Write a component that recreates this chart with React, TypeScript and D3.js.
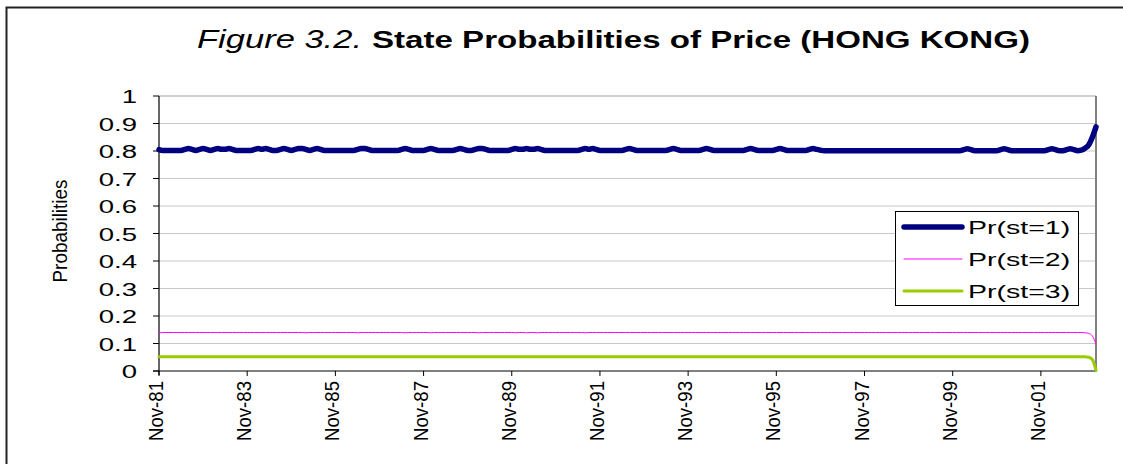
import React from 'react'
import * as d3 from 'd3'

// monthly state probabilities, Nov-81 .. Feb-03
const pr1 = [
  0.805, 0.802, 0.802, 0.802, 0.802, 0.802, 0.802, 0.806, 0.809, 0.806, 0.802, 0.806,
  0.809, 0.806, 0.802, 0.806, 0.809, 0.806, 0.806, 0.809, 0.806, 0.802, 0.802, 0.802,
  0.802, 0.802, 0.806, 0.809, 0.806, 0.809, 0.806, 0.802, 0.802, 0.806, 0.809, 0.806,
  0.802, 0.806, 0.809, 0.809, 0.806, 0.802, 0.806, 0.809, 0.806, 0.802, 0.802, 0.802,
  0.802, 0.802, 0.802, 0.802, 0.802, 0.802, 0.806, 0.809, 0.809, 0.806, 0.802, 0.802,
  0.802, 0.802, 0.802, 0.802, 0.802, 0.802, 0.806, 0.809, 0.806, 0.802, 0.802, 0.802,
  0.802, 0.806, 0.809, 0.806, 0.802, 0.802, 0.802, 0.802, 0.802, 0.806, 0.809, 0.806,
  0.802, 0.802, 0.806, 0.809, 0.809, 0.806, 0.802, 0.802, 0.802, 0.802, 0.802, 0.802,
  0.806, 0.809, 0.806, 0.806, 0.809, 0.806, 0.806, 0.809, 0.806, 0.802, 0.802, 0.802,
  0.802, 0.802, 0.802, 0.802, 0.802, 0.802, 0.802, 0.806, 0.809, 0.806, 0.809, 0.806,
  0.802, 0.802, 0.802, 0.802, 0.802, 0.802, 0.802, 0.806, 0.809, 0.806, 0.802, 0.802,
  0.802, 0.802, 0.802, 0.802, 0.802, 0.802, 0.802, 0.806, 0.809, 0.806, 0.802, 0.802,
  0.802, 0.802, 0.802, 0.802, 0.806, 0.809, 0.806, 0.802, 0.802, 0.802, 0.802, 0.802,
  0.802, 0.802, 0.802, 0.802, 0.806, 0.809, 0.806, 0.802, 0.802, 0.802, 0.802, 0.802,
  0.806, 0.809, 0.806, 0.802, 0.802, 0.802, 0.802, 0.802, 0.802, 0.806, 0.809, 0.806,
  0.803, 0.801, 0.801, 0.801, 0.801, 0.801, 0.801, 0.801, 0.801, 0.801, 0.801, 0.801,
  0.801, 0.801, 0.801, 0.801, 0.801, 0.801, 0.801, 0.801, 0.801, 0.801, 0.801, 0.801,
  0.801, 0.801, 0.801, 0.801, 0.801, 0.801, 0.801, 0.801, 0.801, 0.801, 0.801, 0.801,
  0.801, 0.801, 0.801, 0.805, 0.808, 0.805, 0.801, 0.801, 0.801, 0.801, 0.801, 0.801,
  0.801, 0.805, 0.808, 0.805, 0.801, 0.801, 0.801, 0.801, 0.801, 0.801, 0.801, 0.801,
  0.801, 0.801, 0.805, 0.808, 0.805, 0.801, 0.801, 0.805, 0.808, 0.805, 0.801, 0.803,
  0.81, 0.822, 0.85, 0.888
]

const pr2 = [
  0.138, 0.14, 0.14, 0.14, 0.14, 0.14, 0.14, 0.14, 0.14, 0.14, 0.14, 0.14,
  0.14, 0.14, 0.14, 0.14, 0.14, 0.14, 0.14, 0.14, 0.14, 0.14, 0.14, 0.14,
  0.14, 0.14, 0.14, 0.14, 0.14, 0.14, 0.14, 0.14, 0.14, 0.14, 0.14, 0.14,
  0.14, 0.14, 0.14, 0.14, 0.139, 0.14, 0.14, 0.14, 0.14, 0.14, 0.14, 0.14,
  0.14, 0.14, 0.14, 0.14, 0.14, 0.14, 0.139, 0.14, 0.14, 0.14, 0.14, 0.14,
  0.14, 0.14, 0.14, 0.14, 0.14, 0.14, 0.14, 0.139, 0.14, 0.14, 0.14, 0.14,
  0.14, 0.14, 0.139, 0.14, 0.14, 0.14, 0.14, 0.14, 0.14, 0.14, 0.14, 0.14,
  0.14, 0.14, 0.14, 0.139, 0.14, 0.14, 0.14, 0.14, 0.14, 0.14, 0.14, 0.14,
  0.14, 0.139, 0.14, 0.14, 0.139, 0.14, 0.14, 0.139, 0.14, 0.14, 0.14, 0.14,
  0.14, 0.14, 0.14, 0.14, 0.14, 0.14, 0.14, 0.14, 0.139, 0.14, 0.14, 0.14,
  0.14, 0.14, 0.14, 0.14, 0.14, 0.14, 0.14, 0.14, 0.14, 0.14, 0.14, 0.14,
  0.14, 0.14, 0.14, 0.14, 0.14, 0.14, 0.14, 0.14, 0.14, 0.14, 0.14, 0.14,
  0.14, 0.14, 0.14, 0.14, 0.14, 0.14, 0.14, 0.14, 0.14, 0.14, 0.14, 0.14,
  0.14, 0.14, 0.14, 0.14, 0.14, 0.14, 0.14, 0.14, 0.14, 0.14, 0.14, 0.14,
  0.14, 0.14, 0.14, 0.14, 0.14, 0.14, 0.14, 0.14, 0.14, 0.14, 0.14, 0.14,
  0.14, 0.14, 0.14, 0.14, 0.14, 0.14, 0.14, 0.14, 0.14, 0.14, 0.14, 0.14,
  0.14, 0.14, 0.14, 0.14, 0.14, 0.14, 0.14, 0.14, 0.14, 0.14, 0.14, 0.14,
  0.14, 0.14, 0.14, 0.14, 0.14, 0.14, 0.14, 0.14, 0.14, 0.14, 0.14, 0.14,
  0.14, 0.14, 0.14, 0.14, 0.14, 0.14, 0.14, 0.14, 0.14, 0.14, 0.14, 0.14,
  0.14, 0.14, 0.14, 0.14, 0.14, 0.14, 0.14, 0.14, 0.14, 0.14, 0.14, 0.14,
  0.14, 0.14, 0.14, 0.14, 0.14, 0.14, 0.14, 0.14, 0.14, 0.14, 0.14, 0.14,
  0.139, 0.137, 0.128, 0.098
]

const pr3 = [
  0.052, 0.052, 0.052, 0.052, 0.052, 0.052, 0.052, 0.052, 0.052, 0.052, 0.052, 0.052,
  0.052, 0.052, 0.052, 0.052, 0.052, 0.052, 0.052, 0.052, 0.052, 0.052, 0.052, 0.052,
  0.052, 0.052, 0.052, 0.052, 0.052, 0.052, 0.052, 0.052, 0.052, 0.052, 0.052, 0.052,
  0.052, 0.052, 0.052, 0.052, 0.052, 0.052, 0.052, 0.052, 0.052, 0.052, 0.052, 0.052,
  0.052, 0.052, 0.052, 0.052, 0.052, 0.052, 0.052, 0.052, 0.052, 0.052, 0.052, 0.052,
  0.052, 0.052, 0.052, 0.052, 0.052, 0.052, 0.052, 0.052, 0.052, 0.052, 0.052, 0.052,
  0.052, 0.052, 0.052, 0.052, 0.052, 0.052, 0.052, 0.052, 0.052, 0.052, 0.052, 0.052,
  0.052, 0.052, 0.052, 0.052, 0.052, 0.052, 0.052, 0.052, 0.052, 0.052, 0.052, 0.052,
  0.052, 0.052, 0.052, 0.052, 0.052, 0.052, 0.052, 0.052, 0.052, 0.052, 0.052, 0.052,
  0.052, 0.052, 0.052, 0.052, 0.052, 0.052, 0.052, 0.052, 0.052, 0.052, 0.052, 0.052,
  0.052, 0.052, 0.052, 0.052, 0.052, 0.052, 0.052, 0.052, 0.052, 0.052, 0.052, 0.052,
  0.052, 0.052, 0.052, 0.052, 0.052, 0.052, 0.052, 0.052, 0.052, 0.052, 0.052, 0.052,
  0.052, 0.052, 0.052, 0.052, 0.052, 0.052, 0.052, 0.052, 0.052, 0.052, 0.052, 0.052,
  0.052, 0.052, 0.052, 0.052, 0.052, 0.052, 0.052, 0.052, 0.052, 0.052, 0.052, 0.052,
  0.052, 0.052, 0.052, 0.052, 0.052, 0.052, 0.052, 0.052, 0.052, 0.052, 0.052, 0.052,
  0.052, 0.052, 0.052, 0.052, 0.052, 0.052, 0.052, 0.052, 0.052, 0.052, 0.052, 0.052,
  0.052, 0.052, 0.052, 0.052, 0.052, 0.052, 0.052, 0.052, 0.052, 0.052, 0.052, 0.052,
  0.052, 0.052, 0.052, 0.052, 0.052, 0.052, 0.052, 0.052, 0.052, 0.052, 0.052, 0.052,
  0.052, 0.052, 0.052, 0.052, 0.052, 0.052, 0.052, 0.052, 0.052, 0.052, 0.052, 0.052,
  0.052, 0.052, 0.052, 0.052, 0.052, 0.052, 0.052, 0.052, 0.052, 0.052, 0.052, 0.052,
  0.052, 0.052, 0.052, 0.052, 0.052, 0.052, 0.052, 0.052, 0.052, 0.052, 0.052, 0.052,
  0.052, 0.05, 0.042, 0.002
]

const seriesNames = ['Pr(st=1)', 'Pr(st=2)', 'Pr(st=3)']
const seriesColors = ['#000080', '#ff00ff', '#99cc00']
const seriesWidths = [5.5, 1, 3]

// one label every 24 months
const xTickLabels = ['Nov-81', 'Nov-83', 'Nov-85', 'Nov-87', 'Nov-89', 'Nov-91',
  'Nov-93', 'Nov-95', 'Nov-97', 'Nov-99', 'Nov-01']
const yTickValues = [0, 0.1, 0.2, 0.3, 0.4, 0.5, 0.6, 0.7, 0.8, 0.9, 1]

const W = 1123
const H = 464
const plot = { left: 159, top: 96, right: 1096, bottom: 371 }
const font = "'Liberation Sans', Arial, sans-serif"

export default function App() {
  const series = [pr1, pr2, pr3]
  const n = pr1.length

  const x = d3.scaleLinear().domain([0, n - 1]).range([plot.left, plot.right])
  const y = d3.scaleLinear().domain([0, 1]).range([plot.bottom, plot.top])

  const line = d3.line<number>()
    .x((_, i) => x(i))
    .y(d => y(d))
    .curve(d3.curveMonotoneX)

  const legend = { x: 895, y: 211, w: 183, h: 94 }

  return (
    <div style={{ position: 'absolute', left: 0, top: 0 }}>
      <svg width={W} height={H} style={{ display: 'block', background: '#fff' }} fontFamily={font}>
        <rect x={6.5} y={7.5} width={W + 20} height={H + 20} fill="#fff" stroke="#222" strokeWidth={2} />

        {/* title, stretched sideways like the source picture */}
        <text x={197} y={48} fontSize={25} fontStyle="italic" textLength={165}
          lengthAdjust="spacingAndGlyphs">Figure 3.2.</text>
        <text x={372} y={48} fontSize={24} fontWeight="bold" textLength={658}
          lengthAdjust="spacingAndGlyphs">State Probabilities of Price (HONG KONG)</text>

        {/* gridlines */}
        {yTickValues.filter(v => v > 0).map(v => (
          <line key={v} x1={plot.left} x2={plot.right} y1={y(v)} y2={y(v)}
            stroke={v === 1 ? '#a0a0a0' : '#c8c8c8'} strokeWidth={1} />
        ))}
        <line x1={plot.right} x2={plot.right} y1={plot.top} y2={plot.bottom}
          stroke="#808080" strokeWidth={2} />

        {/* y axis */}
        <line x1={plot.left} x2={plot.left} y1={plot.top} y2={plot.bottom + 4} stroke="#000" strokeWidth={1.2} />
        {yTickValues.map(v => (
          <g key={v}>
            <line x1={plot.left - 6} x2={plot.left} y1={y(v)} y2={y(v)} stroke="#000" />
            <text transform={`translate(137,${y(v) + 7}) scale(1.45,1)`} textAnchor="end" fontSize={19}>
              {String(v)}
            </text>
          </g>
        ))}
        <text transform="translate(67,231) rotate(-90)" textAnchor="middle" fontSize={20}
          textLength={103} lengthAdjust="spacingAndGlyphs">Probabilities</text>

        {/* x axis */}
        <line x1={plot.left - 6} x2={plot.right} y1={plot.bottom} y2={plot.bottom} stroke="#000" strokeWidth={1.2} />
        {xTickLabels.map((lab, k) => {
          const xi = x(k * 24)
          return (
            <g key={lab}>
              <line x1={xi} x2={xi} y1={plot.bottom} y2={plot.bottom + 5} stroke="#000" />
              <text transform={`translate(${xi + 4},381) rotate(-90)`} textAnchor="end" fontSize={21}
                textLength={60} lengthAdjust="spacingAndGlyphs">{lab}</text>
            </g>
          )
        })}

        {/* series */}
        {series.map((s, k) => (
          <path key={k} d={line(s) ?? ''} fill="none" stroke={seriesColors[k]}
            strokeWidth={seriesWidths[k]} strokeLinejoin="round" strokeLinecap="round" />
        )).reverse()}

        {/* legend */}
        <rect x={legend.x + 0.5} y={legend.y + 0.5} width={legend.w} height={legend.h} fill="#fff" stroke="#000" />
        {seriesNames.map((name, k) => {
          const ly = legend.y + 16 + k * 32
          return (
            <g key={name}>
              <line x1={legend.x + 9} x2={legend.x + 67} y1={ly} y2={ly}
                stroke={seriesColors[k]} strokeWidth={seriesWidths[k]} strokeLinecap="round" />
              <text transform={`translate(${legend.x + 73},${ly + 7}) scale(1.5,1)`} fontSize={19}>
                {name}
              </text>
            </g>
          )
        })}
      </svg>
    </div>
  )
}
